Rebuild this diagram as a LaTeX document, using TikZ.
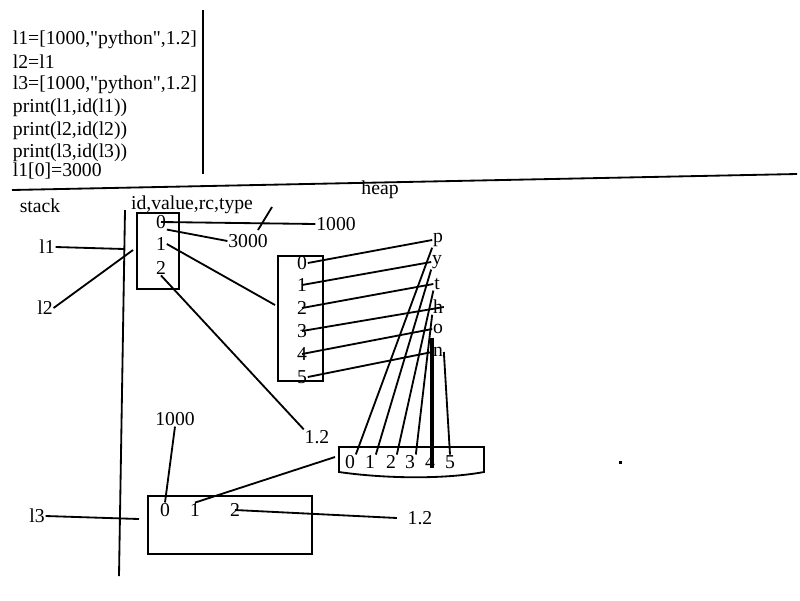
\documentclass[tikz,border=0pt]{standalone}
\usepackage{fontspec}
\setmainfont{Liberation Serif}
\usetikzlibrary{positioning}

\begin{document}
\begin{tikzpicture}[x=0.025cm, y=-0.025cm, line width=1.3pt,
    every node/.style={font=\fontsize{14}{16}\selectfont, inner sep=0pt},
    code/.style={anchor=west}]
  \useasboundingbox (0,0) rectangle (800,600);
  % code lines
  \node[code] (c1) at (12,40) {l1=[1000,\textquotedbl python\textquotedbl,1.2]};
  \node[code] (c2) at (12,62) {l2=l1};
  \node[code] (c3) at (12,85) {l3=[1000,\textquotedbl python\textquotedbl,1.2]};
  \node[code] (c4) at (12,108) {print(l1,id(l1))};
  \node[code] (c5) at (12,131) {print(l2,id(l2))};
  \node[code] (c6) at (12,153) {print(l3,id(l3))};
  \node[code] (c7) at (12,171) {l1[0]=3000};
  \draw (203,10) -- (203,174);
  \draw (12,190) -- (797,174);
  % titles
  \node (heap) at (380,190) {heap};
  \node (stack) at (40,206) {stack};
  \node (idv) at (192,205) {id,value,rc,type};
  % stack
  \draw (125,210) -- (119,576);
  \coordinate (st1) at (124,249);
  \coordinate (st2) at (133,250);
  \node (l1) at (47,247) {l1};
  \node (l2) at (45,308) {l2};
  \node (l3) at (37,516) {l3};
  \draw (l1.east) -- (st1);
  \draw (l2.east) -- (st2);
  % list l1
  \draw (137,213) rectangle (179,289);
  \node (b0) at (161,222) {0};
  \node (b1) at (161,244) {1};
  \node (b2) at (161,268) {2};
  \node (v1000) at (336,224) {1000};
  \node (v3000) at (248,241) {3000};
  \node (v12a) at (317,437) {1.2};
  \coordinate (tk1) at (272,207);
  \coordinate (tk2) at (258,230);
  \coordinate (bx2) at (275,305);
  \draw (b0.center) -- (v1000.west);
  \draw (tk1) -- (tk2);
  \draw (b0.south east) -- (v3000.west);
  \draw (b1.east) -- (bx2);
  \draw (b2.south) -- (v12a.north west);
  % string cells
  \draw (278,256) rectangle (323,381);
  \foreach \i/\y in {0/263,1/285,2/308,3/331,4/354,5/377}
    \node (p\i) at (302,\y) {\i};
  \node (cp) at (438,240) {p};
  \node (cy) at (437,262) {y};
  \node (ct) at (437,284) {t};
  \node (ch) at (438,307) {h};
  \node (co) at (438,329) {o};
  \node (cn) at (438,352) {n};
  \draw (p0.east) -- (cp.west);
  \draw (p1.center) -- (cy.west);
  \draw (p2.center) -- (ct.west);
  \draw (p3.center) -- (ch.east);
  \draw (p4.center) -- (co.west);
  \draw (p5.east) -- (cn.west);
  % python string
  \draw (339,447) -- (484,447) -- (484,472)
    .. controls (440,480) and (380,478) .. (339,472) -- cycle;
  \foreach \i/\x in {0/350,1/370,2/391,3/410,4/430,5/450}
    \node (s\i) at (\x,462) {\i};
  \coordinate (ot) at (432,338);
  \coordinate (ob) at (432,468);
  \draw (cp.south west) -- (s0.north east);
  \draw (cy.south west) -- (s1.north east);
  \draw (ct.south west) -- (s2.north east);
  \draw (ch.south west) -- (s3.north east);
  \draw[line width=2.2pt] (ot) -- (ob);
  \draw (cn.east) -- (s5.north);
  % list l3
  \draw (148,496) rectangle (312,554);
  \node (t0) at (165,510) {0};
  \node (t1) at (195,510) {1};
  \node (t2) at (235,510) {2};
  \node (v1000b) at (175,419) {1000};
  \node (v12b) at (420,518) {1.2};
  \coordinate (sbox) at (335,457);
  \coordinate (bx3) at (139,519);
  \draw (l3.east) -- (bx3);
  \draw (v1000b.south) -- (t0.north);
  \draw (sbox) -- (t1.north);
  \draw (t2.center) -- ([xshift=-7]v12b.west);
  \fill (619,461) rectangle (622,464);
\end{tikzpicture}
\end{document}
